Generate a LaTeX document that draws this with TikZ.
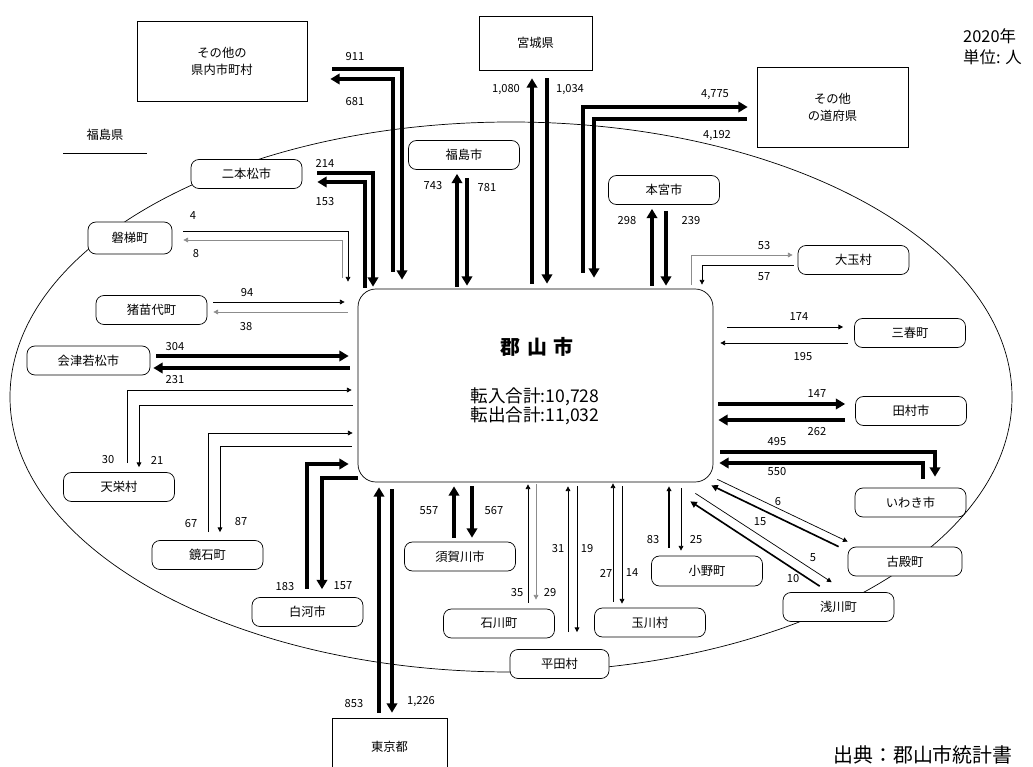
\documentclass[tikz,border=0pt]{standalone}
\usepackage{fontspec}
\setmainfont{Noto Sans CJK JP}
\usetikzlibrary{arrows.meta,calc}

\begin{document}
\begin{tikzpicture}[
x=0.03cm, y=-0.03cm,
every node/.style={
inner sep=0pt,
font=\fontsize{10.5}{14.5}\selectfont
},
town/.style={draw, fill=white, line width=0.6pt, rounded corners=0.24cm, minimum width=3.33cm, minimum height=0.87cm},
area/.style={draw, fill=white, line width=0.6pt, align=center},
num/.style={font=\fontsize{9.5}{10}\selectfont},
flowthick/.style={line width=3.4pt, -{Triangle[length=8pt,width=9pt]}},
flowmid/.style={line width=1.4pt, -{Triangle[length=5.5pt,width=5.5pt]}},
flowthin/.style={line width=0.6pt, -{Triangle[length=4pt,width=4pt]}},
flowgray/.style={flowthin, draw=black!45}
]

\path[use as bounding box] (0,0) rectangle (1033,767);
\clip (0,0) rectangle (1033,767);

\draw[line width=0.6pt] (511,397) ellipse [x radius=501, y radius=275];

\node[draw, fill=white, line width=0.6pt, rounded corners=0.54cm, minimum width=10.65cm, minimum height=5.79cm] (kori) at (535.5,385.5) {};
\node[font=\fontsize{17}{17}\selectfont\bfseries] (title) at (537,347) {郡\hspace{0.35em}山\hspace{0.35em}市};
\node[font=\fontsize{15}{12.5}\selectfont, align=center] (totals) at (535,406) {転入合計:10,728\\転出合計:11,032};

\node[area, minimum width=5.1cm, minimum height=2.4cm] (ken) at (222,61) {その他の\\県内市町村};
\node[area, minimum width=3.39cm, minimum height=1.62cm] (miyagi) at (535.5,43) {宮城県};
\node[area, minimum width=4.53cm, minimum height=2.4cm] (other) at (832.5,107) {その他\\の道府県};
\node[area, minimum width=3.45cm, minimum height=1.74cm] (tokyo) at (389.5,747) {東京都};

\node[town] (fukushima) at (464,155) {福島市};
\node[town] (nihonmatsu) at (246.5,174) {二本松市};
\node[town, minimum width=2.52cm, minimum height=0.96cm] (bandai) at (130,238) {磐梯町};
\node[town] (inawashiro) at (151.5,310) {猪苗代町};
\node[town, minimum width=3.69cm] (aizu) at (88.5,360.5) {会津若松市};
\node[town] (tenei) at (119,487) {天栄村};
\node[town] (kagamiishi) at (207.5,555) {鏡石町};
\node[town] (shirakawa) at (307.5,612) {白河市};
\node[town] (sukagawa) at (460,556.5) {須賀川市};
\node[town] (ishikawa) at (499,623.5) {石川町};
\node[town, minimum width=2.97cm] (hirata) at (559.5,664) {平田村};
\node[town] (tamakawa) at (650,622.5) {玉川村};
\node[town, minimum height=0.9cm] (ono) at (707,571) {小野町};
\node[town] (motomiya) at (664,190) {本宮市};
\node[town] (otama) at (853.5,260) {大玉村};
\node[town] (miharu) at (910,333) {三春町};
\node[town] (tamura) at (911,411) {田村市};
\node[town] (iwaki) at (910.5,502.5) {いわき市};
\node[town, minimum width=3.42cm] (furudono) at (905,561.5) {古殿町};
\node[town] (asakawa) at (838.5,607) {浅川町};

\node (pref) at (105,135) {福島県};
\draw[line width=0.6pt] (63,153) -- (147,153);
\node[anchor=west, font=\fontsize{14}{14}\selectfont] (year) at (963,36) {2020年};
\node[anchor=west, font=\fontsize{14}{14}\selectfont] (unit) at (963,57) {単位: 人};
\node[font=\fontsize{17}{17}\selectfont] (source) at (923,755) {出典：郡山市統計書};

\draw[flowthick, shorten <=0.75cm, shorten >=0.27cm] (ken.east |- 0,69) -| (kori.north -| 402,0);
\draw[flowthick, shorten <=0.51cm, shorten >=0.69cm] (kori.north -| 393,0) |- (ken.east |- 0,79);
\draw[flowthick, shorten <=0.45cm, shorten >=0.06cm] (nihonmatsu.east |- 0,173) -| (kori.north -| 373,0);
\draw[flowthick, shorten <=0.03cm, shorten >=0.45cm] (kori.north -| 365,0) |- (nihonmatsu.east |- 0,182);
\draw[flowthick, shorten <=0.06cm, shorten >=0.12cm] (kori.north -| 457,0) -- (fukushima.south -| 457,0);
\draw[flowthick, shorten <=0.24cm, shorten >=0.09cm] (fukushima.south -| 467,0) -- (kori.north -| 467,0);
\draw[flowthick, shorten <=0.15cm, shorten >=0.24cm] (kori.north -| 532,0) -- (miyagi.south -| 532,0);
\draw[flowthick, shorten <=0.24cm, shorten >=0.15cm] (miyagi.south -| 547,0) -- (kori.north -| 547,0);
\draw[flowthick, shorten <=0.48cm, shorten >=0.27cm] (kori.north -| 583,0) |- (other.west |- 0,107);
\draw[flowthick, shorten <=0.3cm, shorten >=0.33cm] (other.west |- 0,119) -| (kori.north -| 594,0);
\draw[flowthick, shorten <=0.09cm, shorten >=0.12cm] (kori.north -| 652,0) -- (motomiya.south -| 652,0);
\draw[flowthick, shorten <=0.18cm, shorten >=0.09cm] (motomiya.south -| 666,0) -- (kori.north -| 666,0);
\draw[flowgray, shorten <=0.12cm, shorten >=0.15cm] (kori.north -| 691,0) |- (otama.west |- 0,255);
\draw[flowthin, shorten <=0.12cm, shorten >=0.12cm] (otama.west |- 0,265) -| (kori.north -| 702,0);

\draw[flowthin, shorten <=0.33cm, shorten >=0.21cm] (bandai.east |- 0,231) -| (kori.north -| 348,0);
\draw[flowgray, shorten <=0.33cm, shorten >=0.33cm] (kori.north -| 342,0) |- (bandai.east |- 0,240);
\draw[flowthin, shorten <=0.18cm, shorten >=0.39cm] (inawashiro.east |- 0,302) -- (kori.west |- 0,302);
\draw[flowgray, shorten <=0.3cm, shorten >=0.18cm] (kori.west |- 0,312) -- (inawashiro.east |- 0,312);
\draw[flowthick, shorten <=0.18cm, shorten >=0.27cm] (aizu.east |- 0,356) -- (kori.west |- 0,356);
\draw[flowthick, shorten <=0.24cm, shorten >=0.09cm] (kori.west |- 0,368) -- (aizu.east |- 0,368);
\draw[flowthin, shorten <=0.27cm, shorten >=0.18cm] (tenei.north -| 127,0) |- (kori.west |- 0,390);
\draw[flowthin, shorten <=0.15cm, shorten >=0.15cm] (kori.west |- 0,405) -| (tenei.north -| 139,0);
\draw[flowthin, shorten <=0.24cm, shorten >=0.15cm] (kagamiishi.north -| 208,0) |- (kori.west |- 0,433);
\draw[flowthin, shorten <=0.18cm, shorten >=0.24cm] (kori.west |- 0,446) -| (kagamiishi.north -| 220,0);
\draw[flowthick, shorten <=0.24cm, shorten >=0.27cm] (shirakawa.north -| 307,0) |- (kori.west |- 0,464);
\draw[flowthick, shorten >=0.24cm] (kori.west |- 0,478) -| (shirakawa.north -| 322,0);

\draw[flowthick, shorten <=0.15cm, shorten >=0.15cm] (tokyo.north -| 379,0) -- (kori.south -| 379,0);
\draw[flowthick, shorten <=0.21cm, shorten >=0.15cm] (kori.south -| 392,0) -- (tokyo.north -| 392,0);
\draw[flowthick, shorten <=0.12cm, shorten >=0.12cm] (sukagawa.north -| 454,0) -- (kori.south -| 454,0);
\draw[flowthick, shorten <=0.12cm, shorten >=0.12cm] (kori.south -| 472,0) -- (sukagawa.north -| 472,0);
\draw[flowthin, shorten <=0.18cm, shorten >=0.06cm] (ishikawa.north -| 528,0) -- (kori.south -| 528,0);
\draw[flowgray, shorten <=0.06cm, shorten >=0.27cm] (kori.south -| 536,0) -- (ishikawa.north -| 536,0);
\draw[flowthin, shorten <=0.51cm, shorten >=0.12cm] (hirata.north -| 568,0) -- (kori.south -| 568,0);
\draw[flowthin, shorten <=0.12cm, shorten >=0.51cm] (kori.south -| 577,0) -- (hirata.north -| 577,0);
\draw[flowthin, shorten <=0.18cm, shorten >=0.03cm] (tamakawa.north -| 613,0) -- (kori.south -| 613,0);
\draw[flowthin, shorten <=0.12cm, shorten >=0.12cm] (kori.south -| 622,0) -- (tamakawa.north -| 622,0);
\draw[flowthin, line width=1pt, shorten <=0.24cm, shorten >=0.12cm] (ono.north -| 669,0) -- (kori.south -| 669,0);
\draw[flowthin, shorten <=0.18cm, shorten >=0.15cm] (kori.south -| 681,0) -- (ono.north -| 681,0);

\draw[flowthin, shorten <=0.42cm, shorten >=0.33cm] (kori.east |- 0,327) -- (miharu.west |- 0,327);
\draw[flowthin, shorten <=0.18cm, shorten >=0.21cm] (miharu.west |- 0,343) -- (kori.east |- 0,343);
\draw[flowthick, shorten <=0.15cm, shorten >=0.3cm] (kori.east |- 0,404) -- (tamura.west |- 0,404);
\draw[flowthick, shorten <=0.3cm, shorten >=0.15cm] (tamura.west |- 0,420) -- (kori.east |- 0,420);
\draw[flowthick, shorten <=0.21cm, shorten >=0.33cm] (kori.east |- 0,452) -| (iwaki.north -| 935,0);
\draw[flowthick, shorten <=0.27cm, shorten >=0.18cm] (iwaki.north -| 923,0) |- (kori.east |- 0,463);
\draw[flowthin] ($(kori.south east)+(4,-3)$) -- ($(furudono.north west)+(0,-5)$);
\draw[flowmid] ($(furudono.north west)+(-9,0)$) -- ($(kori.south east)+(-2,3)$);
\draw[flowthin] ($(kori.south east)+(-18,11)$) -- ($(asakawa.north west)+(49,-10)$);
\draw[flowmid] ($(asakawa.north west)+(37,-6)$) -- ($(kori.south east)+(-23,19)$);

\node[num] (n911) at (355,57) {911};
\node[num] (n681) at (355,102) {681};
\node[num] (n214) at (325,163) {214};
\node[num] (n153) at (325,202) {153};
\node[num] (n743) at (433,186) {743};
\node[num] (n781) at (487,188) {781};
\node[num] (n1080) at (506,90) {1,080};
\node[num] (n1034) at (570,90) {1,034};
\node[num] (n4775) at (715,95) {4,775};
\node[num] (n4192) at (717,136) {4,192};
\node[num] (n298) at (627,221) {298};
\node[num] (n239) at (691,221) {239};
\node[num] (n53) at (764,246) {53};
\node[num] (n57) at (764,277) {57};
\node[num] (n4) at (193,216) {4};
\node[num] (n8) at (196,254) {8};
\node[num] (n94) at (247,293) {94};
\node[num] (n38) at (246,327) {38};
\node[num] (n304) at (175,347) {304};
\node[num] (n231) at (175,380) {231};
\node[num] (n30) at (108,460) {30};
\node[num] (n21) at (157,460) {21};
\node[num] (n67) at (191,524) {67};
\node[num] (n87) at (241,522) {87};
\node[num] (n183) at (285,587) {183};
\node[num] (n157) at (343,586) {157};
\node[num] (n853) at (354,704) {853};
\node[num] (n1226) at (421,702) {1,226};
\node[num] (n557) at (429,511) {557};
\node[num] (n567) at (494,511) {567};
\node[num] (n35) at (517,593) {35};
\node[num] (n29) at (550,593) {29};
\node[num] (n31) at (558,549) {31};
\node[num] (n19) at (587,549) {19};
\node[num] (n27) at (606,573) {27};
\node[num] (n14) at (632,573) {14};
\node[num] (n83) at (653,540) {83};
\node[num] (n25) at (696,540) {25};
\node[num] (n174) at (799,317) {174};
\node[num] (n195) at (803,357) {195};
\node[num] (n147) at (817,394) {147};
\node[num] (n262) at (817,432) {262};
\node[num] (n495) at (777,442) {495};
\node[num] (n550) at (777,472) {550};
\node[num] (n6) at (778,502) {6};
\node[num] (n15) at (760,522) {15};
\node[num] (n5) at (813,558) {5};
\node[num] (n10) at (793,579) {10};

\end{tikzpicture}
\end{document}
